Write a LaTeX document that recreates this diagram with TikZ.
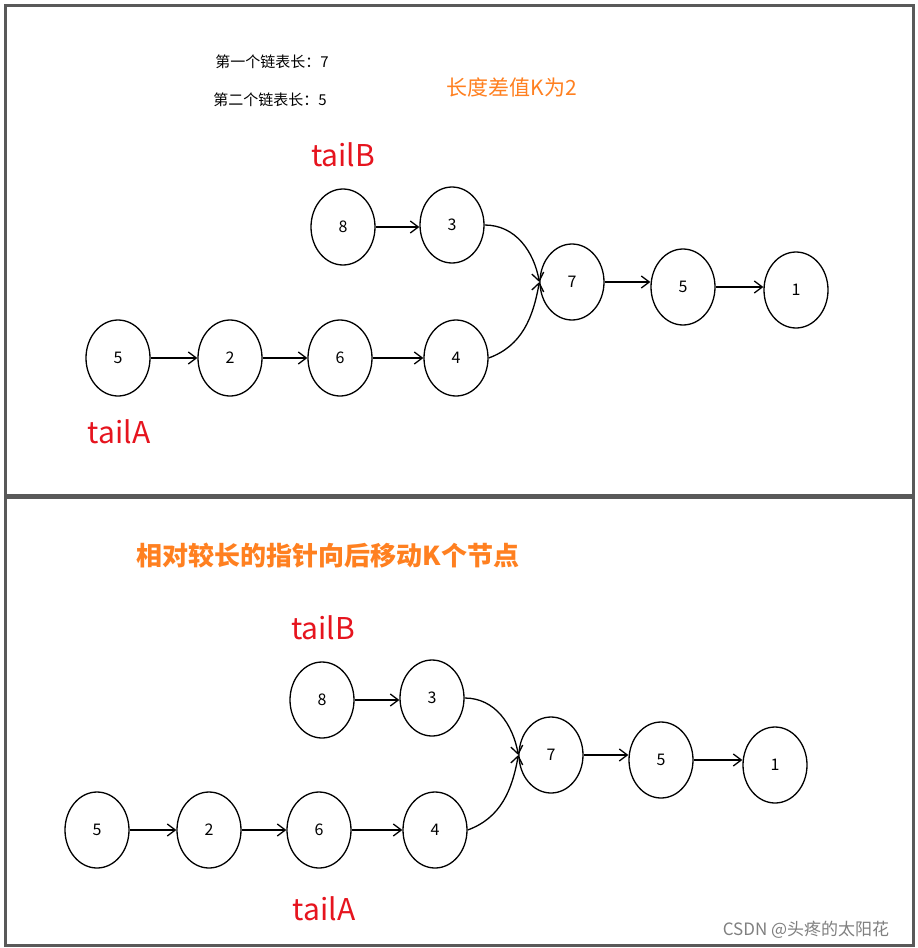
\documentclass[tikz,border=0pt]{standalone}
\usepackage{fontspec}
\setmainfont{Noto Sans CJK SC}
\usetikzlibrary{shapes.geometric,arrows.meta}
\definecolor{org}{RGB}{255,128,32}
\definecolor{rd}{RGB}{230,20,30}
\tikzset{nd/.style={draw,line width=1.3pt,ellipse,minimum width=64pt,minimum height=76pt,inner sep=0pt,font=\fontsize{16}{16}\selectfont},
ar/.style={-{Straight Barb[length=8pt,width=12pt]},line width=1.3pt},
lab/.style={text=rd,font=\fontsize{30}{30}\selectfont}}
\begin{document}
\begin{tikzpicture}[x=1pt,y=-1pt]
\useasboundingbox (0,0) rectangle (918,948);
\fill[white] (0,0) rectangle (918,948);
\draw[gray!70!black,line width=3pt] (5,5) rectangle (913,495);
\draw[gray!70!black,line width=3pt] (5,497) rectangle (913,945);
% top
\node[font=\fontsize{15}{15}\selectfont] (t1) at (272,62) {第一个链表长：7};
\node[font=\fontsize{15}{15}\selectfont] (t2) at (270,100) {第二个链表长：5};
\node[text=org,font=\fontsize{21}{21}\selectfont] (t3) at (512,87) {长度差值K为2};
\node[lab] (tb) at (343,155) {tailB};
\node[lab] (ta) at (119,432) {tailA};
\node[nd] (a8) at (343,227) {8};
\node[nd] (a3) at (452,225) {3};
\node[nd] (a7) at (572,282) {7};
\node[nd] (a5) at (683,287) {5};
\node[nd] (a1) at (796,290) {1};
\node[nd] (b5) at (118,358) {5};
\node[nd] (b2) at (230,358) {2};
\node[nd] (b6) at (340,358) {6};
\node[nd] (b4) at (456,358) {4};
\draw[ar] (a8.east) -- (a3.west |- a8.east);
\draw[ar] (a7.east) -- (a5.west |- a7.east);
\draw[ar] (a5.east) -- (a1.west |- a5.east);
\draw[ar] (b5) -- (b2);
\draw[ar] (b2) -- (b6);
\draw[ar] (b6) -- (b4);
\draw[ar] (a3.east) to[out=0,in=100] (a7.west);
\draw[ar] (b4.east) to[out=20,in=-100] (a7.west);
% bottom
\node[text=org,font=\bfseries\fontsize{26}{26}\selectfont] (t4) at (328,556) {相对较长的指针向后移动K个节点};
\node[lab] (tb2) at (323,628) {tailB};
\node[lab] (ta2) at (324,909) {tailA};
\node[nd] (c8) at (322,700) {8};
\node[nd] (c3) at (432,698) {3};
\node[nd] (c7) at (551,755) {7};
\node[nd] (c5) at (661,760) {5};
\node[nd] (c1) at (775,765) {1};
\node[nd] (d5) at (97,830) {5};
\node[nd] (d2) at (209,830) {2};
\node[nd] (d6) at (319,830) {6};
\node[nd] (d4) at (435,830) {4};
\draw[ar] (c8.east) -- (c3.west |- c8.east);
\draw[ar] (c7.east) -- (c5.west |- c7.east);
\draw[ar] (c5.east) -- (c1.west |- c5.east);
\draw[ar] (d5) -- (d2);
\draw[ar] (d2) -- (d6);
\draw[ar] (d6) -- (d4);
\draw[ar] (c3.east) to[out=0,in=100] (c7.west);
\draw[ar] (d4.east) to[out=20,in=-100] (c7.west);
\node[text=gray,font=\fontsize{17}{17}\selectfont] (wm) at (806,930) {CSDN @头疼的太阳花};
\end{tikzpicture}
\end{document}
